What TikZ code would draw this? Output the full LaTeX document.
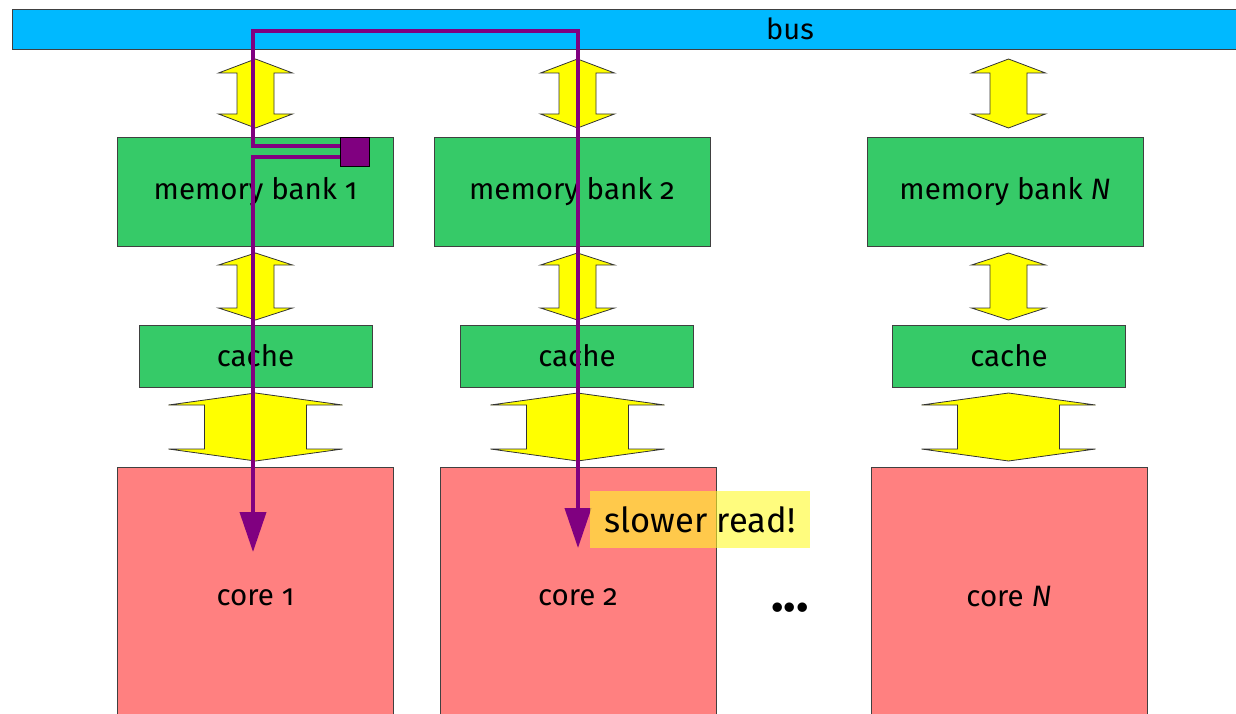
\documentclass[tikz,border=0pt]{standalone}
\usepackage{fontspec}
\setmainfont{Fira Sans}[Numbers=OldStyle]
\usepackage{tikz}
\usetikzlibrary{positioning, arrows.meta}

\definecolor{busblue}{RGB}{0,185,255}
\definecolor{bankgreen}{RGB}{54,202,104}
\definecolor{coresalmon}{RGB}{255,128,128}
\definecolor{pathpurple}{RGB}{128,0,128}
\definecolor{noteyellow}{RGB}{255,250,40}
\definecolor{flowyellow}{RGB}{255,255,0}

\tikzset{
  box/.style={draw=black!75, line width=0.8pt, inner sep=0pt, font=\fontsize{29.5}{33}\selectfont},
  bank/.style={box, fill=bankgreen, minimum width=276pt, minimum height=109pt},
  cachebox/.style={box, fill=bankgreen, minimum width=233pt, minimum height=62pt},
  corebox/.style={box, fill=coresalmon, minimum width=276pt, minimum height=260pt},
  busbar/.style={box, fill=busblue, minimum width=1228pt, minimum height=40pt},
  flow/.style={draw=black!80, fill=flowyellow, line width=0.8pt},
  readpath/.style={pathpurple, line width=4pt},
  note/.style={fill=noteyellow, fill opacity=0.6, text opacity=1, minimum width=220pt, minimum height=57pt, font=\fontsize{34.5}{38}\selectfont},
}

% double arrow: x, top, bottom, half head, half shaft, head length
\newcommand{\updown}[6]{%
  \filldraw[flow] (#1,#2) -- (#1+#4,#2+#6) -- (#1+#5,#2+#6) -- (#1+#5,#3-#6) -- (#1+#4,#3-#6)
    -- (#1,#3) -- (#1-#4,#3-#6) -- (#1-#5,#3-#6) -- (#1-#5,#2+#6) -- (#1-#4,#2+#6) -- cycle;}

\begin{document}
\begin{tikzpicture}[x={(1pt,0)}, y={(0,-1pt)}]
    \useasboundingbox (0,0) rectangle (1236,714);
    \clip (0,0) rectangle (1236,714);

    \node[busbar] (bus) at (626,29) {};
    \node[font=\fontsize{29}{32}\selectfont] (buslabel) at (790,29) {bus};

    \node[bank] (bank1) at (255.5,191.5) {memory bank 1};
    \node[bank] (bank2) at (572,191.5) {memory bank 2};
    \node[bank] (bankN) at (1005,191.5) {memory bank \textit{N}};

    \node[cachebox] (cache1) at (255.5,356) {cache};
    \node[cachebox] (cache2) at (577,356) {cache};
    \node[cachebox] (cacheN) at (1009,356) {cache};

    \node[corebox] (core1) at (255.5,597) {core 1};
    \node[corebox] (core2) at (578,597) {core 2};
    \node[corebox] (coreN) at (1009,597) {core \textit{N}};

    \node[font=\fontsize{52}{56}\selectfont] (dots) at (790,608) {\textbf{...}};

    \foreach \cx in {255.5,577.5,1008.5} {
        \updown{\cx}{59}{128}{37}{18.5}{14}
        \updown{\cx}{253}{320}{37}{18.5}{12}
        \updown{\cx}{393}{461}{87}{51}{12}
    }

    % remote read through the bus
    \node[draw=black, fill=pathpurple, minimum size=29pt, inner sep=0pt] (datum) at (354.5,151.5) {};
    \coordinate (turn1) at (253,157);
    \coordinate (hit1) at (253,552);
    \coordinate (up2) at (253,146);
    \coordinate (busleft) at (253,31);
    \coordinate (busright) at (578,31);
    \coordinate (hit2) at (578,548);

    \draw[readpath, -{Triangle[length=40pt,width=26pt]}] ([yshift=-5.5pt]datum.west) -- (turn1) -- (hit1);
    \draw[readpath, -{Triangle[length=40pt,width=26pt]}] ([yshift=5.5pt]datum.west) -- (up2) -- (busleft) -- (busright) -- (hit2);
    \node[draw=black, fill=pathpurple, minimum size=29pt, inner sep=0pt] at (datum) {};

    \node[note] (slow) at (700,519.5) {slower read!};
\end{tikzpicture}
\end{document}
